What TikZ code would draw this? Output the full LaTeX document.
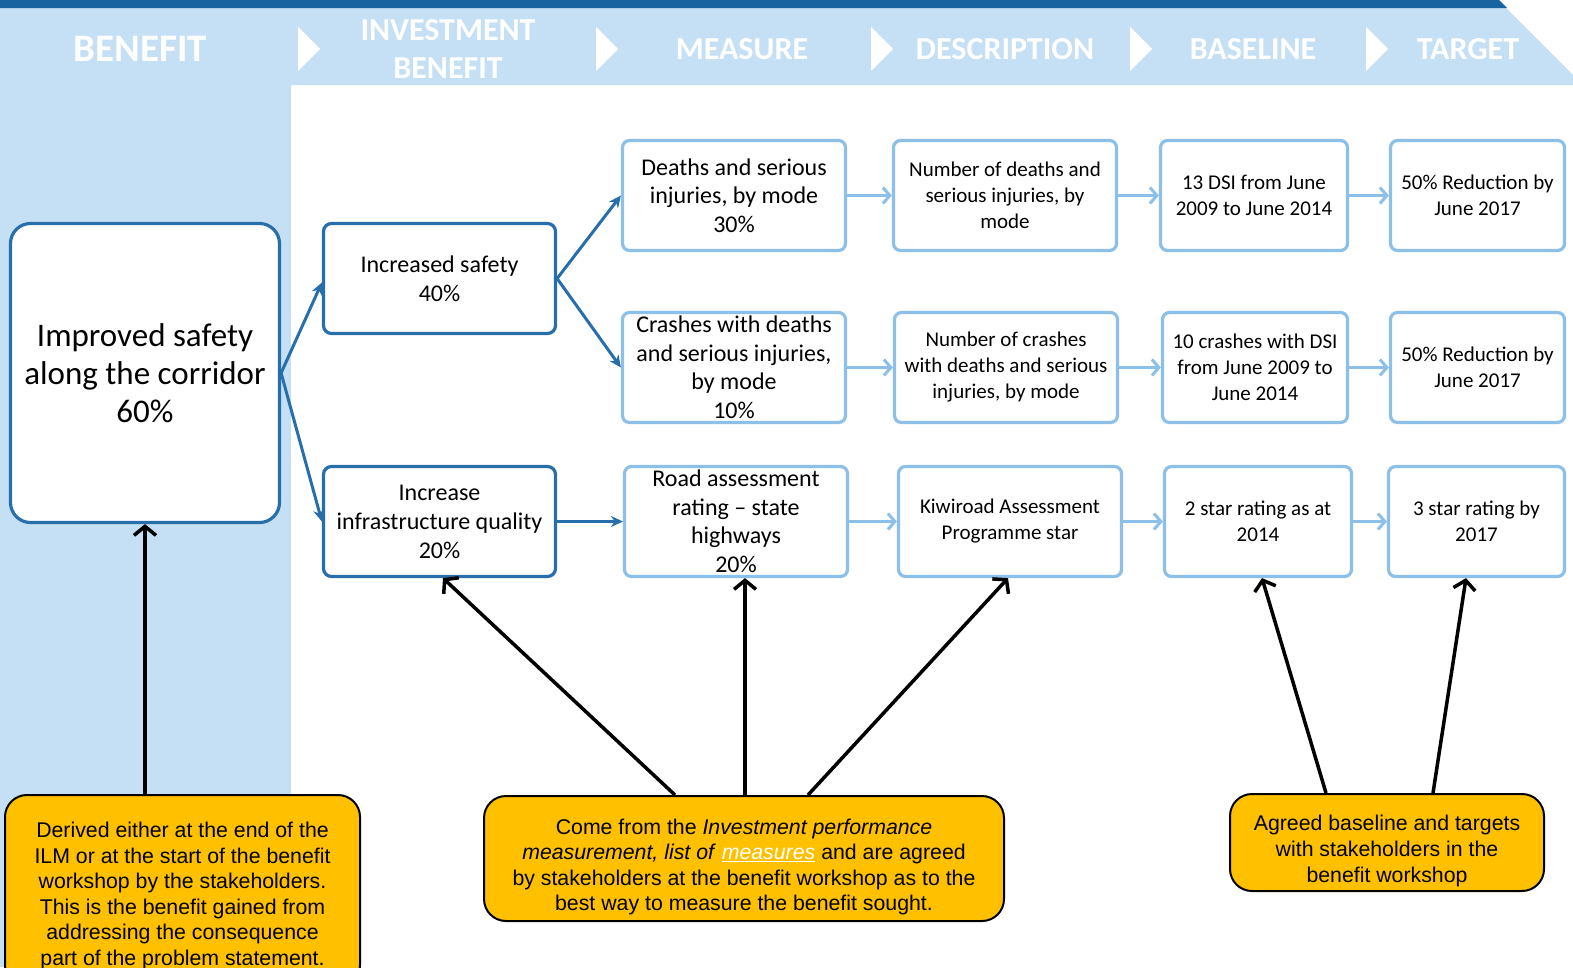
\documentclass[tikz,border=0pt]{standalone}
\usepackage{fontspec}
\setmainfont{Carlito}
\newfontfamily\arialf{Liberation Sans}
\usetikzlibrary{arrows.meta,calc}
\definecolor{bandD}{RGB}{23,100,160}
\definecolor{bandL}{RGB}{197,223,244}
\definecolor{boxD}{RGB}{40,110,170}
\definecolor{boxL}{RGB}{141,192,232}
\definecolor{callF}{RGB}{255,192,0}
\begin{document}
\begin{tikzpicture}[x=1pt,y=-1pt,
  darkbox/.style={draw=boxD, line width=3.2pt, rounded corners=8pt, fill=white, minimum width=232pt, minimum height=110pt, align=center, inner sep=2pt, font=\fontsize{24}{29}\selectfont},
  lightbox/.style={draw=boxL, line width=3.2pt, rounded corners=7pt, fill=white, minimum height=110pt, align=center, inner sep=2pt},
  meas/.style={lightbox, minimum width=223pt, font=\fontsize{24}{28.5}\selectfont},
  desc/.style={lightbox, font=\fontsize{21}{26}\selectfont},
  callbox/.style={draw=black, line width=2pt, fill=callF, rounded corners=22pt, inner sep=0pt},
  calltext/.style={align=center, inner sep=0pt, font=\arialf\fontsize{21.3}{25.6}\selectfont},
  darr/.style={draw=boxD, line width=3pt, -{Stealth[length=12pt,width=11pt]}},
  larr/.style={draw=boxL, line width=3pt, -{Straight Barb[length=7pt,width=16pt,line width=3pt]}},
  barr/.style={draw=black, line width=3.5pt, -{Straight Barb[length=9pt,width=22pt,line width=3.5pt]}},
  hdr/.style={text=white, font=\bfseries\fontsize{32}{38}\selectfont, align=center},
  chev/.style={fill=white}
]
\useasboundingbox (0,0) rectangle (1573,967);
\clip (0,0) rectangle (1573,967);
\fill[white] (0,0) rectangle (1573,967);
% header bands
\fill[bandL] (0,8) -- (1506,8) -- (1583,85) -- (0,85) -- cycle;
\fill[bandD] (0,0) -- (1499,0) -- (1507,8) -- (0,8) -- cycle;
\fill[bandL] (0,85) rectangle (291,967);
% chevrons
\foreach \cx in {298,596,871,1130,1366}{
  \fill[chev] (\cx,27) -- (\cx+22,49) -- (\cx,71) -- cycle;
}
% header labels
\node[hdr, font=\bfseries\fontsize{39}{44}\selectfont] (h1) at (140.5,49) {BENEFIT};
\node[hdr] (h2) at (448,49) {INVESTMENT\\BENEFIT};
\node[hdr] (h3) at (742,49) {MEASURE};
\node[hdr] (h4) at (1005,49) {DESCRIPTION};
\node[hdr] (h5) at (1253,49) {BASELINE};
\node[hdr] (h6) at (1468,49) {TARGET};
% benefit
\node[darkbox, minimum width=269pt, minimum height=299pt, rounded corners=20pt, font=\fontsize{33}{38}\selectfont] (big) at (145,373) {Improved safety\\along the corridor\\60\%};
% investment benefits
\node[darkbox] (inc) at (439.5,278.5) {Increased safety\\40\%};
\node[darkbox] (inf) at (439.5,521.5) {Increase\\infrastructure quality\\20\%};
% measures
\node[meas] (m1) at (734,195.5) {Deaths and serious\\injuries, by mode\\30\%};
\node[meas] (m2) at (734,367.5) {Crashes with deaths\\and serious injuries,\\by mode\\10\%};
\node[meas] (m3) at (736,521.5) {Road assessment\\rating -- state\\highways\\20\%};
% descriptions
\node[desc, minimum width=223pt] (d1) at (1005,195.5) {Number of deaths and\\serious injuries, by\\mode};
\node[desc, minimum width=223pt] (d2) at (1006,367.5) {Number of crashes\\with deaths and serious\\injuries, by mode};
\node[desc, minimum width=223pt] (d3) at (1010,521.5) {Kiwiroad Assessment\\Programme star};
% baselines
\node[desc, minimum width=187pt] (b1) at (1254,195.5) {13 DSI from June\\2009 to June 2014};
\node[desc, minimum width=185pt] (b2) at (1255,367.5) {10 crashes with DSI\\from June 2009 to\\June 2014};
\node[desc, minimum width=187pt] (b3) at (1258,521.5) {2 star rating as at\\2014};
% targets
\node[desc, minimum width=174pt] (t1) at (1477.5,195.5) {50\% Reduction by\\June 2017};
\node[desc, minimum width=174pt] (t2) at (1477.5,367.5) {50\% Reduction by\\June 2017};
\node[desc, minimum width=176pt] (t3) at (1476.5,521.5) {3 star rating by\\2017};
% dark connectors
\draw[darr] (big.east) -- ([yshift=-4pt]inc.west);
\draw[darr] (big.east) -- (inf.west);
\draw[darr] (inc.east) -- (m1.west);
\draw[darr] (inc.east) -- (m2.west);
\draw[darr] (inf.east) -- (m3.west);
% light connectors
\draw[larr] (m1.east) -- (d1.west);
\draw[larr] (d1.east) -- (b1.west);
\draw[larr] (b1.east) -- (t1.west);
\draw[larr] (m2.east) -- (d2.west);
\draw[larr] (d2.east) -- (b2.west);
\draw[larr] (b2.east) -- (t2.west);
\draw[larr] (m3.east) -- (d3.west);
\draw[larr] (d3.east) -- (b3.west);
\draw[larr] (b3.east) -- (t3.west);
% callouts
\node[callbox, minimum width=355pt, minimum height=192pt] (c1) at (182.5,891) {};
\node[calltext] (c1t) at (182.5,896) {Derived either at the end of the\\ILM or at the start of the benefit\\workshop by the stakeholders.\\This is the benefit gained from\\addressing the consequence\\part of the problem statement.};
\node[callbox, minimum width=520pt, minimum height=125pt] (c2) at (744,858.5) {};
\node[calltext] (c2t) at (744,867) {Come from the \textit{Investment performance}\\\textit{measurement, list of }\textcolor{white}{\underline{\textit{measures}}} and are agreed\\by stakeholders at the benefit workshop as to the\\best way to measure the benefit sought.};
\node[callbox, minimum width=314pt, minimum height=97pt] (c3) at (1387,842.5) {};
\node[calltext] (c3t) at (1387,851) {Agreed baseline and targets\\with stakeholders in the\\benefit workshop};
% black arrows
\draw[barr] (c1.north -| big.south) -- (big.south);
\draw[barr] ([xshift=-69pt]c2.north) -- ([xshift=3.5pt]inf.south);
\draw[barr] ([xshift=1pt]c2.north) -- ([xshift=9pt]m3.south);
\draw[barr] ([xshift=64pt]c2.north) -- ([xshift=-2pt]d3.south);
\draw[barr] ([xshift=-61pt]c3.north) -- ([xshift=4pt]b3.south);
\draw[barr] ([xshift=46pt]c3.north) -- ([xshift=-10.5pt]t3.south);
\end{tikzpicture}
\end{document}
